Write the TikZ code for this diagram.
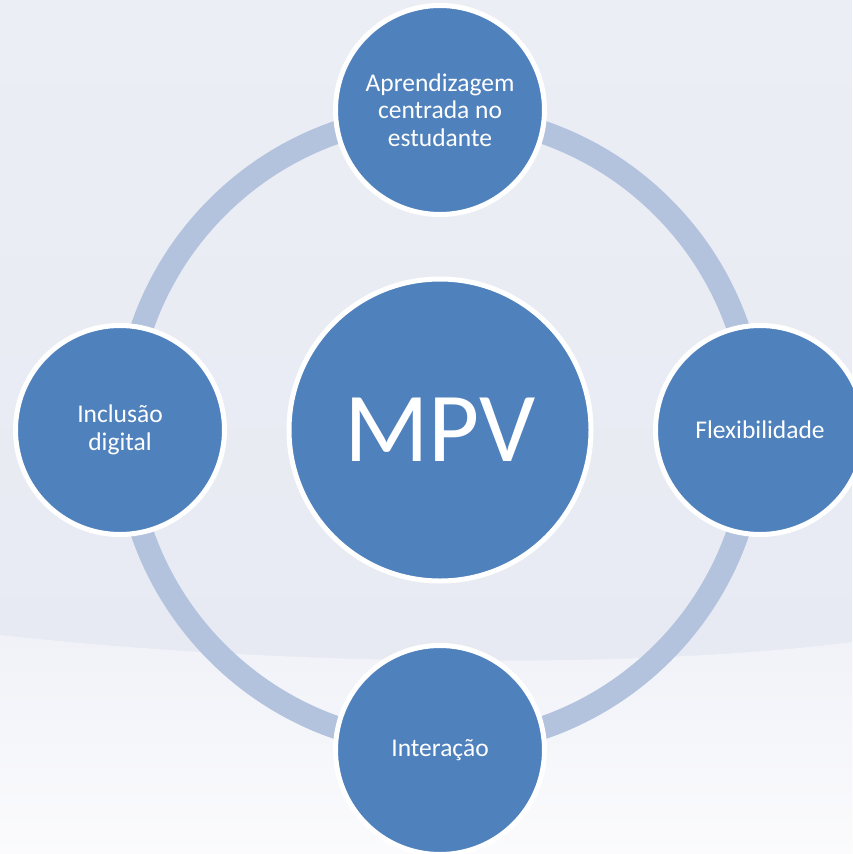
\documentclass[tikz,border=0pt]{standalone}
\usepackage{fontspec}
\setmainfont{Carlito}
\usepackage{xcolor}
\usepackage{tikz}
\usetikzlibrary{positioning, shapes}

\definecolor{mpvblue}{HTML}{4F81BD}
\definecolor{ringblue}{HTML}{B3C3DE}
\definecolor{bgtop}{HTML}{ECEEF5}
\definecolor{bgmid}{HTML}{E6E9F2}
\definecolor{bglowtop}{HTML}{F0F2F8}
\definecolor{bglow}{HTML}{FBFBFD}

\tikzset{
	bubble/.style = {circle, fill = mpvblue, draw = white, line width = 5pt, inner sep = 0pt,
		text = white, align = center, font = \fontsize{25.5}{27.5}\selectfont, minimum size = 209pt},
	hub/.style = {bubble, minimum size = 302pt, font = \fontsize{99}{104}\selectfont},
	ring/.style = {draw = ringblue, line width = 23pt}
}

\begin{document}
\begin{tikzpicture}[x = 1pt, y = -1pt, node distance = 320pt, auto]
			% background
			\useasboundingbox (0,0) rectangle (852,854);
			\shade [top color = bgtop, bottom color = bgmid] (0,0) rectangle (852,854);
			\shade [top color = bglowtop, bottom color = bglow]
				(0,635) .. controls (300,668) and (650,668) .. (852,642) -- (852,854) -- (0,854) -- cycle;
			
			\node [hub] (mpv) at (440,430) {MPV};
			\draw [ring] (mpv.center) circle [radius = 315pt];
			
			\node [bubble, above of = mpv] (aprend) {Aprendizagem\\centrada no\\estudante};
			\node [bubble, right of = mpv] (flex) {Flexibilidade};
			\node [bubble, below of = mpv] (inter) {Interação};
			\node [bubble, left of = mpv] (incl) {Inclusão\\digital};
		\end{tikzpicture}
\end{document}
